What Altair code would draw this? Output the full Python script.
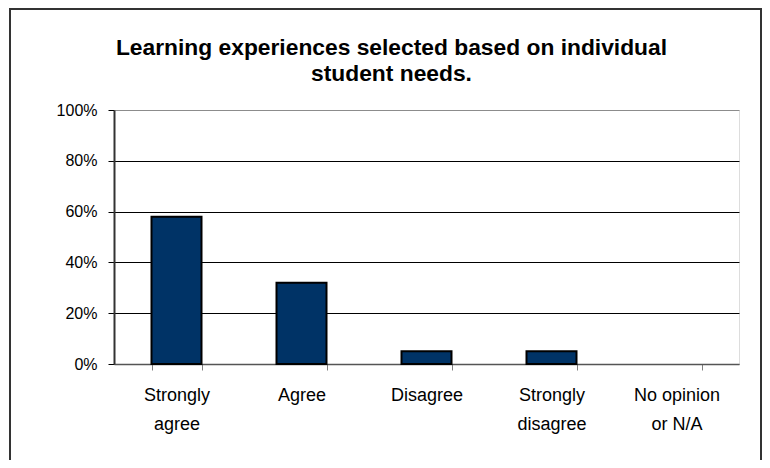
import altair as alt
import pandas as pd

categories = ["Strongly\nagree", "Agree", "Disagree", "Strongly\ndisagree", "No opinion\nor N/A"]
values = [0.58, 0.32, 0.05, 0.05, 0.0]
title_lines = ["Learning experiences selected based on individual", "student needs."]
y_ticks = [0, 0.2, 0.4, 0.6, 0.8, 1.0]

df = pd.DataFrame({"category": categories, "value": values})

FONT = "Liberation Sans"

bars = alt.Chart(df).mark_bar(
    color="#003366", stroke="black", strokeWidth=2
).encode(
    x=alt.X(
        "category:N",
        sort=categories,
        title=None,
        scale=alt.Scale(paddingInner=0.6, paddingOuter=0.3),
        axis=alt.Axis(
            labelAngle=0,
            labelExpr="split(datum.label, '\\n')",
            labelFontSize=18,
            labelLineHeight=29,
            labelColor="black",
            labelFont=FONT,
            labelPadding=16,
            tickBand="extent",
            tickSize=6,
            tickColor="#808080",
            domainColor="#555555",
            domainWidth=1.5,
            grid=False,
        ),
    ),
    y=alt.Y(
        "value:Q",
        title=None,
        scale=alt.Scale(domain=[0, 1]),
        axis=alt.Axis(
            values=y_ticks,
            format=".0%",
            labelFontSize=16,
            labelColor="black",
            labelFont=FONT,
            labelPadding=11,
            tickSize=6,
            tickColor="black",
            domainColor="#333333",
            domainWidth=2,
            gridColor=alt.condition("datum.value === 1 || datum.value === 0", alt.value("#8c8c8c"), alt.value("black")),
            gridWidth=1,
        ),
    ),
    strokeOpacity=alt.condition("datum.value == 0", alt.value(0), alt.value(1)),
)

frame_left = alt.Chart(df).mark_rule(color="#333333", strokeWidth=2).encode(
    x=alt.value(-104), y=alt.value(-101), y2=alt.value(360)
)
frame_top = alt.Chart(df).mark_rule(color="#333333", strokeWidth=2).encode(
    x=alt.value(-105), x2=alt.value(648), y=alt.value(-101)
)
frame_right = alt.Chart(df).mark_rule(color="#333333", strokeWidth=2).encode(
    x=alt.value(647), y=alt.value(-101), y2=alt.value(360)
)

chart = alt.layer(bars, frame_left, frame_top, frame_right).properties(
    width=625,
    height=254,
    title=alt.TitleParams(
        text=title_lines,
        fontSize=22.8,
        font=FONT,
        fontWeight="bold",
        color="black",
        lineHeight=26,
        offset=24,
        dy=102,
        dx=-35,
        anchor="middle",
    ),
    autosize=alt.AutoSizeParams(type="none"),
    padding={"left": 106, "top": 102, "right": 23, "bottom": 96},
).configure_view(
    stroke="#8c8c8c", strokeWidth=2
).configure(background="white")

chart.save("out.html", embed_options={"renderer": "svg", "actions": False})
